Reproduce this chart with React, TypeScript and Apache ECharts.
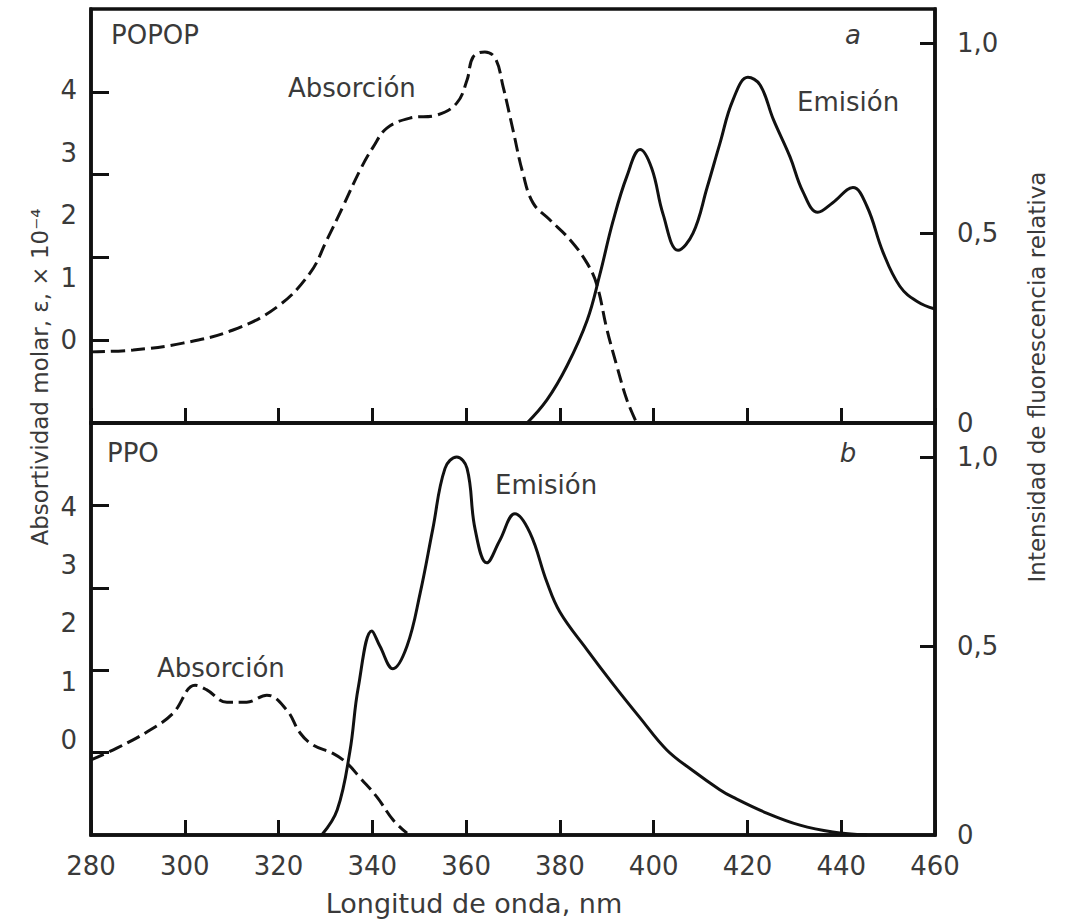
import React, { useEffect, useRef } from "react";
import * as echarts from "echarts";

// Wavelength axis
const xTicks = [280, 300, 320, 340, 360, 380, 400, 420, 440, 460];

// POPOP (panel a)
const popopAbsNm = [280, 289, 299.6, 310.3, 319.7, 326.7, 330.3, 333.7, 337.4, 340.2, 343.1, 348, 353.8, 358, 360.2, 361.5, 364, 366.2, 367.9, 370, 372.1, 374.3, 377.9, 382.2, 385.8, 387.9, 390, 392.2, 394.3, 396.4];
const popopAbsVal = [-0.19, -0.16, -0.05, 0.16, 0.53, 1.07, 1.6, 2.13, 2.72, 3.09, 3.39, 3.55, 3.6, 3.79, 4.16, 4.53, 4.61, 4.51, 4.05, 3.36, 2.67, 2.19, 1.92, 1.6, 1.23, 0.88, 0.18, -0.43, -0.96, -1.33];
const popopEmNm = [373, 377.2, 381.5, 385.8, 388.5, 391.3, 394.3, 397.1, 399.6, 402, 405.2, 408.4, 411.4, 414.1, 416.9, 420.1, 422.7, 425.5, 429.1, 431.8, 435, 438.2, 442.5, 445.5, 448.9, 452.5, 456.2, 460];
const popopEmVal = [0, 0.06, 0.15, 0.27, 0.39, 0.53, 0.65, 0.72, 0.67, 0.55, 0.455, 0.5, 0.62, 0.735, 0.85, 0.91, 0.89, 0.8, 0.7, 0.61, 0.555, 0.58, 0.62, 0.57, 0.45, 0.36, 0.32, 0.3];

// PPO (panel b)
const ppoAbsNm = [280, 285.5, 292.6, 297.5, 302.2, 304.7, 309, 313.2, 317.5, 321.7, 324.6, 327.4, 331.6, 334.6, 337.4, 341, 344.4, 347.4];
const ppoAbsVal = [-0.34, -0.14, 0.17, 0.46, 0.94, 0.86, 0.65, 0.65, 0.77, 0.52, 0.12, -0.09, -0.23, -0.4, -0.65, -0.98, -1.37, -1.6];
const ppoEmNm = [329.2, 332.5, 335.2, 337, 339.9, 341.6, 344.4, 347.4, 350.2, 352.9, 355.5, 358, 360.2, 361.9, 364.4, 367.2, 370.4, 373.6, 377.2, 380, 385.8, 391.3, 397.1, 402.8, 408.4, 414.1, 416.9, 424.1, 431.2, 438.2, 445.5];
const ppoEmVal = [0, 0.066, 0.22, 0.39, 0.54, 0.5, 0.44, 0.5, 0.64, 0.81, 0.97, 1.0, 0.97, 0.81, 0.72, 0.78, 0.85, 0.8, 0.67, 0.59, 0.49, 0.4, 0.31, 0.225, 0.17, 0.12, 0.1, 0.058, 0.026, 0.008, 0];

// Tick labels
const absLabels = [0, 1, 2, 3, 4];
const absTickMarks = [1, 2, 3, 4];
const fluoLabels = [0, 0.5, 1.0];

const FONT = "DejaVu Sans";
const TXT = "#3a3a3a";
const INK = "#111";

const zip = (a: number[], b: number[]) => a.map((v, i) => [v, b[i]]);

export default function App() {
  const ref = useRef<HTMLDivElement>(null);
  useEffect(() => {
    document.body.style.margin = "0";
    const chart = echarts.init(ref.current!, null, { renderer: "svg" });

    const axisLine = { show: true, lineStyle: { color: INK, width: 3.5 } };
    const xAxisBase = (gi: number, showLabels: boolean) => ({
      type: "value",
      gridIndex: gi,
      min: 280,
      max: 460,
      interval: 20,
      axisLine,
      axisTick: { show: true, inside: true, length: 15, lineStyle: { color: INK, width: 3 } },
      axisLabel: showLabels
        ? { show: true, fontFamily: FONT, fontSize: 26, color: TXT, margin: 18, customValues: xTicks }
        : { show: false },
      splitLine: { show: false },
    });
    const tickAxis = (gi: number) => ({
      type: "value",
      gridIndex: gi,
      position: "left",
      min: 0,
      max: 5,
      axisLine,
      axisTick: { show: true, inside: true, length: 18, lineStyle: { color: INK, width: 3 }, customValues: absTickMarks },
      axisLabel: { show: false },
      splitLine: { show: false },
    });
    const labelAxis = (gi: number, min: number, max: number) => ({
      type: "value",
      gridIndex: gi,
      position: "left",
      min,
      max,
      axisLine: { show: false },
      axisTick: { show: false },
      axisLabel: { show: true, fontFamily: FONT, fontSize: 26, color: TXT, margin: 14, customValues: absLabels },
      splitLine: { show: false },
    });
    const fluoAxis = (gi: number) => ({
      type: "value",
      gridIndex: gi,
      position: "right",
      min: 0,
      max: 1.09,
      axisLine,
      axisTick: { show: true, inside: true, length: 15, lineStyle: { color: INK, width: 3 }, customValues: [0.5, 1.0] },
      axisLabel: {
        show: true,
        fontFamily: FONT,
        fontSize: 26,
        color: TXT,
        margin: 22,
        customValues: fluoLabels,
        formatter: (v: number) => (v === 0 ? "0" : v.toFixed(1).replace(".", ",")),
      },
      splitLine: { show: false },
    });

    const absLine = { color: INK, width: 3, type: [14, 6] as any };
    const emLine = { color: INK, width: 3 };
    const common = { type: "line", showSymbol: false, smooth: 0.4, clip: true };

    const txt = (text: string, x: number, y: number, opts: any = {}) => ({
      type: "text",
      x,
      y,
      style: {
        text,
        fontFamily: FONT,
        fontSize: 26,
        fill: TXT,
        align: "left",
        verticalAlign: "middle",
        textAlign: "left",
        textVerticalAlign: "middle",
        ...opts,
      },
    });

    chart.setOption({
      animation: false,
      backgroundColor: "#fff",
      grid: [
        { left: 91, top: 9, width: 844, height: 414, show: true, borderColor: INK, borderWidth: 3.5 },
        { left: 91, top: 423, width: 844, height: 412, show: true, borderColor: INK, borderWidth: 3.5 },
      ],
      xAxis: [xAxisBase(0, false), xAxisBase(1, true)],
      yAxis: [
        tickAxis(0),
        labelAxis(0, -1.328, 5.296),
        fluoAxis(0),
        tickAxis(1),
        labelAxis(1, -1.631, 5.442),
        fluoAxis(1),
      ],
      series: [
        { ...common, name: "POPOP absorción", xAxisIndex: 0, yAxisIndex: 1, data: zip(popopAbsNm, popopAbsVal), lineStyle: absLine },
        { ...common, name: "POPOP emisión", xAxisIndex: 0, yAxisIndex: 2, data: zip(popopEmNm, popopEmVal), lineStyle: emLine },
        { ...common, name: "PPO absorción", xAxisIndex: 1, yAxisIndex: 4, data: zip(ppoAbsNm, ppoAbsVal), lineStyle: absLine },
        { ...common, name: "PPO emisión", xAxisIndex: 1, yAxisIndex: 5, data: zip(ppoEmNm, ppoEmVal), lineStyle: emLine },
      ],
      graphic: [
        txt("POPOP", 111, 35),
        txt("Absorción", 288, 88),
        txt("a", 853, 35, { fontStyle: "italic", align: "center", textAlign: "center" }),
        txt("Emisión", 797, 102),
        txt("PPO", 107, 453),
        txt("b", 848, 453, { fontStyle: "italic", align: "center", textAlign: "center" }),
        txt("Absorción", 157, 668),
        txt("Emisión", 495, 485),
        txt("Longitud de onda, nm", 474, 903, { align: "center", textAlign: "center", fontSize: 27 }),
        {
          type: "text",
          x: 40,
          y: 377,
          rotation: Math.PI / 2,
          style: {
            text: "Absortividad molar, ε, × 10⁻⁴",
            fontFamily: FONT,
            fontSize: 23,
            fill: TXT,
            align: "center",
            verticalAlign: "middle",
            textAlign: "center",
            textVerticalAlign: "middle",
          },
        },
        {
          type: "text",
          x: 1037,
          y: 377,
          rotation: Math.PI / 2,
          style: {
            text: "Intensidad de fluorescencia relativa",
            fontFamily: FONT,
            fontSize: 23,
            fill: TXT,
            align: "center",
            verticalAlign: "middle",
            textAlign: "center",
            textVerticalAlign: "middle",
          },
        },
      ],
    });
    return () => chart.dispose();
  }, []);
  return <div ref={ref} style={{ width: 1071, height: 920 }} />;
}
